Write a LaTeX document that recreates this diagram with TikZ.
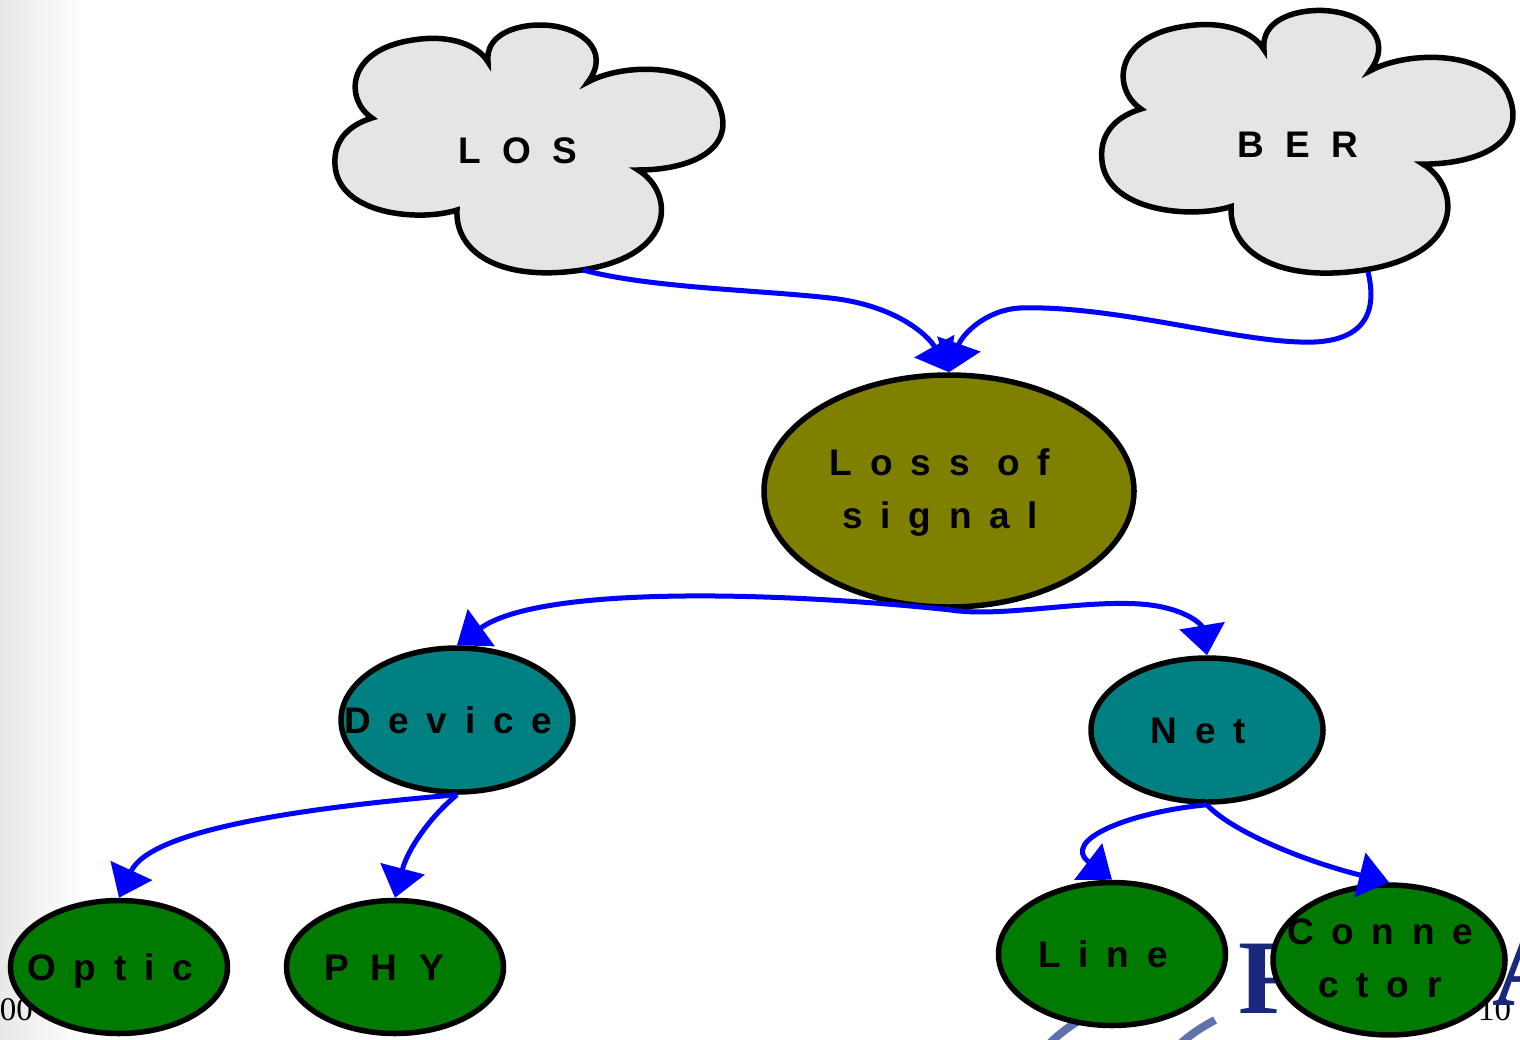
\documentclass[tikz,border=0pt]{standalone}
\usepackage{fontspec}
\setmainfont{Liberation Sans}
\newfontfamily\lblfont{Liberation Sans}[LetterSpace=48]
\newfontfamily\capfont{Liberation Sans}[LetterSpace=58]
\newfontfamily\serifx{Liberation Serif}
\usetikzlibrary{shapes.geometric,arrows.meta}
\definecolor{olivec}{RGB}{128,128,0}
\definecolor{tealc}{RGB}{0,128,128}
\definecolor{greenc}{RGB}{0,122,0}
\definecolor{cloudc}{RGB}{229,229,229}
\definecolor{navyc}{RGB}{25,40,125}
\definecolor{swirlc}{RGB}{95,115,170}
\definecolor{edgegray}{RGB}{232,232,232}
\newcommand{\lowtxt}[1]{\makebox[0pt]{#1\hspace*{0.48em}}}
\newcommand{\captxt}[1]{\makebox[0pt]{\capfont #1\hspace*{0.58em}}}
\tikzset{
  lbl/.style={font=\lblfont\bfseries\fontsize{37pt}{53pt}\selectfont},
  caplbl/.style={font=\capfont\bfseries\fontsize{37pt}{53pt}\selectfont},
  oneline/.style={text height=26.5pt,text depth=0pt},
  ell/.style={ellipse, draw=black, line width=5.5pt, inner sep=0pt, lbl},
  olivebox/.style={ell, fill=olivec, minimum width=370pt, minimum height=232pt},
  tealbox/.style={ell, fill=tealc, minimum width=232pt, minimum height=144pt},
  greenbox/.style={ell, fill=greenc},
  conn/.style={draw=blue, line width=5pt, -{Triangle[length=30pt,width=45pt]}},
  cloudshape/.style={draw=black, line width=5.5pt, fill=cloudc, line join=miter},
  stray/.style={font=\serifx\fontsize{33pt}{33pt}\selectfont, inner sep=0pt},
  logo/.style={font=\serifx\bfseries\fontsize{106pt}{106pt}\selectfont, text=navyc, inner sep=0pt}
}
\begin{document}
\begin{tikzpicture}[x=1pt,y=-1pt]
\useasboundingbox (0,0) rectangle (1520,1039);
\fill[white] (0,0) rectangle (1520,1039);
\shade[left color=edgegray, right color=white] (0,0) rectangle (85,1039);

% background fragments
\node[stray, anchor=base east] (zz) at (33,1020) {00};
\node[stray, anchor=base west] (tn) at (1478,1020) {10};
\node[logo, anchor=base west] (logoF) at (1238,1013) {F};
\node[logo, anchor=base west] (logoA) at (1492,1005) {A};
\draw[swirlc, line width=8pt] (1045,1048) .. controls (1060,1032) and (1080,1018) .. (1100,1010);
\draw[swirlc, line width=8pt] (1176,1048) .. controls (1188,1036) and (1200,1028) .. (1215,1020);

% LOS cloud
\path[cloudshape] (372,118) .. controls (345,100) and (345,50) .. (413,40)
 .. controls (450,34) and (478,45) .. (488,62)
 .. controls (485,35) and (515,25) .. (540,25)
 .. controls (580,25) and (612,50) .. (588,82)
 .. controls (625,62) and (705,62) .. (720,108)
 .. controls (735,150) and (690,170) .. (638,170)
 .. controls (675,192) and (680,262) .. (565,272)
 .. controls (495,278) and (455,250) .. (457,210)
 .. controls (420,222) and (338,215) .. (335,165)
 .. controls (333,138) and (352,124) .. (372,118) -- cycle;
% BER cloud (same outline, shifted and scaled)
\begin{scope}[shift={(1141,109)}, scale=1.06, shift={(-372,-118)}]
\path[cloudshape] (372,118) .. controls (345,100) and (345,50) .. (413,40)
 .. controls (450,34) and (478,45) .. (488,62)
 .. controls (485,35) and (515,25) .. (540,25)
 .. controls (580,25) and (612,50) .. (588,82)
 .. controls (625,62) and (705,62) .. (720,108)
 .. controls (735,150) and (690,170) .. (638,170)
 .. controls (675,192) and (680,262) .. (565,272)
 .. controls (495,278) and (455,250) .. (457,210)
 .. controls (420,222) and (338,215) .. (335,165)
 .. controls (333,138) and (352,124) .. (372,118) -- cycle;
\end{scope}
\node[caplbl, oneline, inner sep=0pt] (lostxt) at (518,150) {LOS};
\node[caplbl, oneline, inner sep=0pt] (bertxt) at (1298,144) {BER};
\coordinate (losb) at (583,270);
\coordinate (berb) at (1368,272);

% ellipse nodes
\node[olivebox] (los) at (949,491) {\makebox[0pt]{\begin{tabular}{@{}c@{}}Loss of\\signal\end{tabular}\hspace*{0.48em}}};
\node[tealbox, oneline] (dev) at (457,720) {\lowtxt{Device}};
\node[tealbox, oneline] (net) at (1207,730) {\lowtxt{Net}};
\node[greenbox, oneline, minimum width=217pt, minimum height=133pt] (optic) at (119,967) {\lowtxt{Optic}};
\node[greenbox, oneline, minimum width=217pt, minimum height=133pt] (phy) at (395,967) {\captxt{PHY}};
\node[greenbox, oneline, minimum width=227pt, minimum height=143pt] (line) at (1112,954) {\lowtxt{Line}};
\node[greenbox, minimum width=232pt, minimum height=142pt] (cnt) at (1389,960) {\makebox[0pt]{\begin{tabular}{@{}c@{}}Conne\\ctor\end{tabular}\hspace*{0.48em}}};

% connectors
\draw[conn] (losb) .. controls (650,288) and (760,290) .. (830,298) .. controls (895,305) and (928,335) .. (los.north);
\draw[conn] (berb) .. controls (1376,305) and (1372,345) .. (1300,342) .. controls (1230,340) and (1110,305) .. (1020,308) .. controls (985,310) and (962,335) .. (los.north);
\draw[conn] (los.south) .. controls (780,592) and (540,585) .. (dev.north);
\draw[conn] (los.south) .. controls (1000,618) and (1080,600) .. (1140,604) .. controls (1185,607) and (1202,625) .. (net.north);
\draw[conn] (dev.south) .. controls (300,808) and (150,830) .. (optic.north);
\draw[conn] (dev.south) .. controls (432,815) and (408,848) .. (phy.north);
\draw[conn] (net.south) .. controls (1130,812) and (1060,840) .. (line.north);
\draw[conn] (net.south) .. controls (1230,830) and (1300,860) .. (cnt.north);
\end{tikzpicture}
\end{document}
